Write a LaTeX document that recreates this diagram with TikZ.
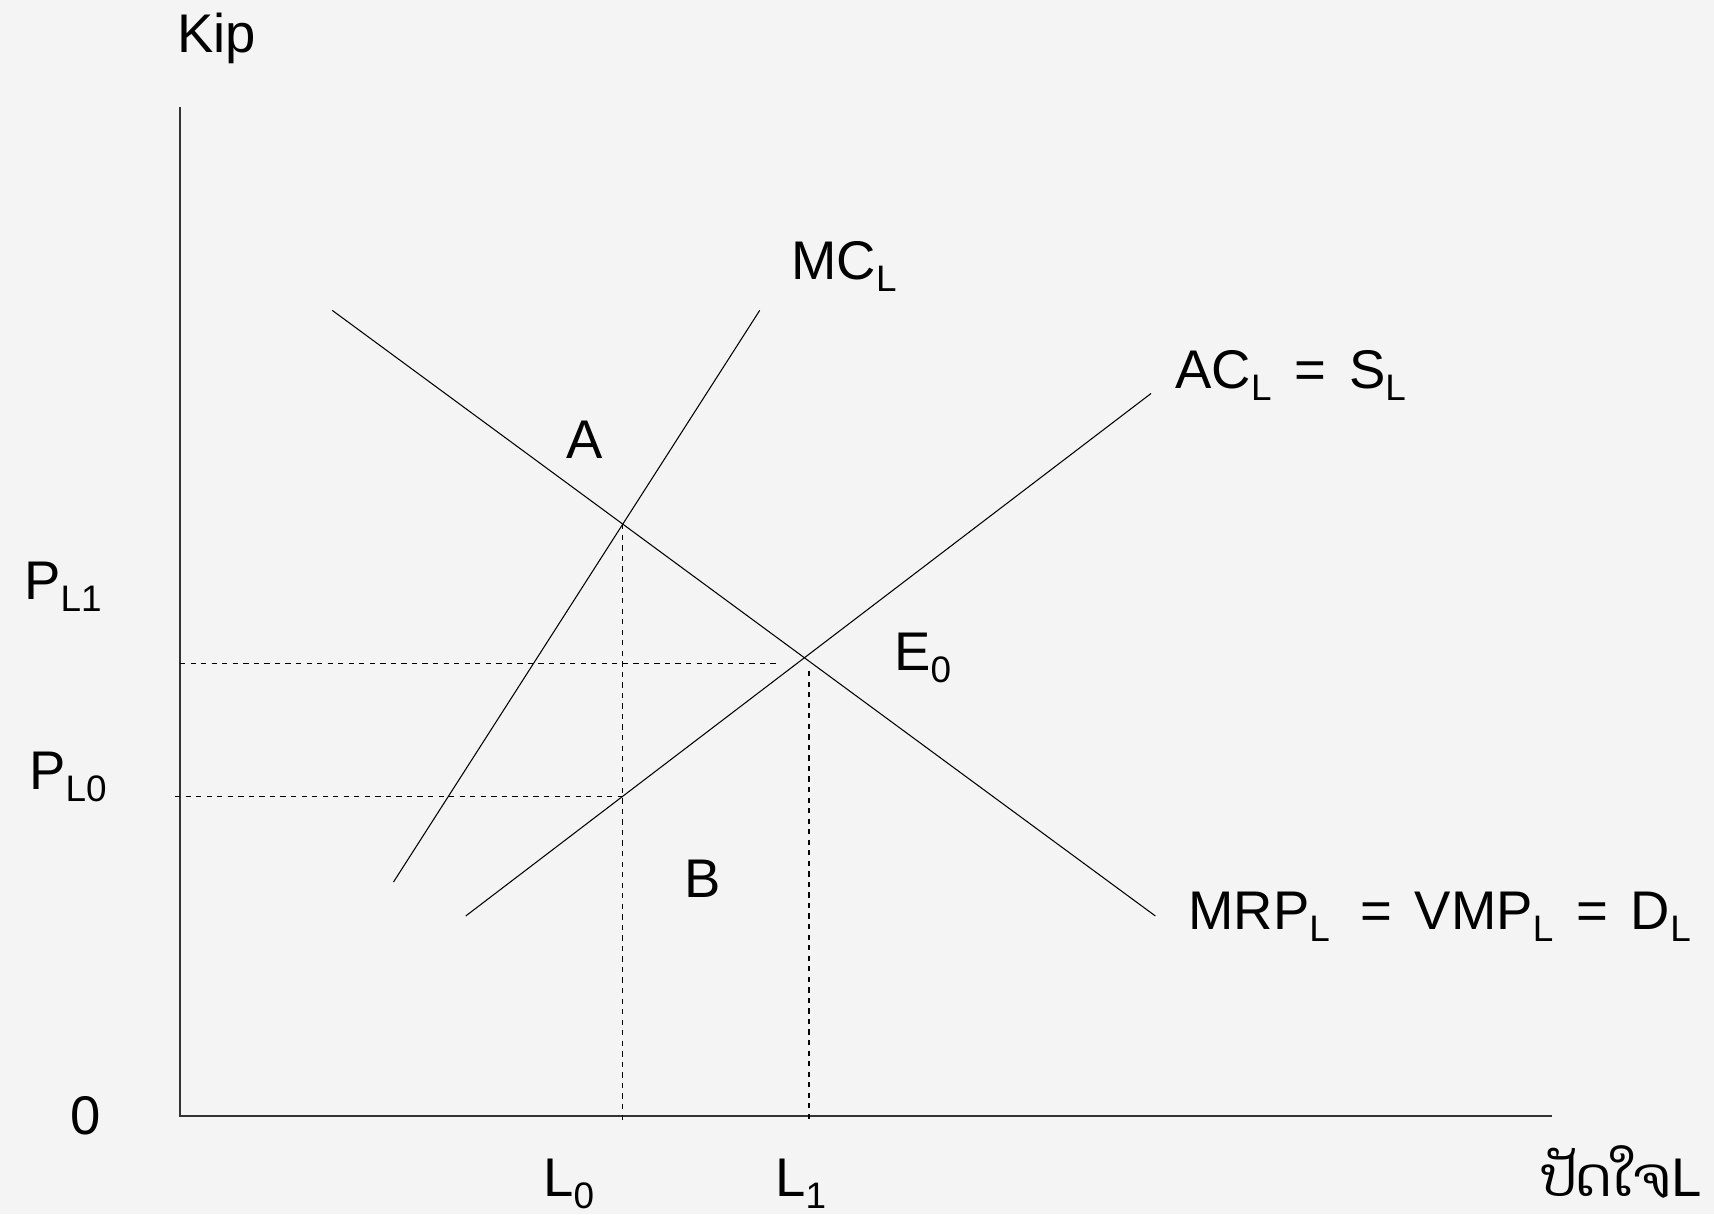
\documentclass[tikz,border=0pt]{standalone}
\usepackage{fontspec}
\setmainfont{Liberation Sans}
\newfontfamily\laofont[Script=Lao]{Dhyana}
\usepackage{tikz}
\usetikzlibrary{positioning, calc}
\definecolor{pagebg}{HTML}{F4F4F4}
\definecolor{axisgray}{HTML}{333333}
\newcommand\lsub[1]{\raisebox{-7pt}{\fontsize{21}{21}\selectfont #1}}
\newcommand\gap{\hspace{0.42em}}
\tikzset{
  axisline/.style={draw=axisgray, line width=0.8pt},
  curve/.style={draw=black, line width=0.6pt},
  guide/.style={draw=black, line width=0.6pt, dash pattern=on 3pt off 3pt},
  lbl/.style={font=\fontsize{31}{37}\selectfont, inner sep=0pt, anchor=base west},
}
\begin{document}
\begin{tikzpicture}[x=0.02cm, y=-0.02cm]
  \useasboundingbox[fill=pagebg] (0,0) rectangle (1714,1214);
  % axes
  \coordinate (origin) at (180,1116);
  \coordinate (ytop) at (180,107);
  \coordinate (xend) at (1552,1116);
  \coordinate (bot) at (0,1123);
  \coordinate (left0) at (175,0);
  \draw[axisline] (ytop) -- (origin) -- (xend);
  % curves
  \coordinate (mc1) at (393.5,882);
  \coordinate (mc2) at (759.7,310.4);
  \coordinate (ac1) at (465.7,916);
  \coordinate (ac2) at (1151,393.5);
  \coordinate (d1) at (332.3,310.4);
  \coordinate (d2) at (1155.4,916);
  \draw[curve] (mc1) -- (mc2);
  \draw[curve] (ac1) -- (ac2);
  \draw[curve] (d1) -- (d2);
  % intersections and guide lines
  \coordinate (ea) at (intersection of d1--d2 and mc1--mc2);
  \coordinate (e0h) at (777,663.5);
  \coordinate (e0v) at (809,671);
  \coordinate (eabot) at (ea |- bot);
  \coordinate (eb) at (intersection of ac1--ac2 and ea--eabot);
  \draw[guide] (ea) -- (eabot);
  \draw[guide] (e0v) -- (e0v |- bot);
  \draw[guide] (origin |- e0h) -- (e0h);
  \draw[guide] (left0 |- eb) -- (eb);
  % labels
  \node[lbl] (kip) at (177,52) {Kip};
  \node[lbl] (mcl) at (791,279) {MC\lsub{L}};
  \node[lbl] (acl) at (1175,388) {AC\lsub{L}\gap=\gap S\lsub{L}};
  \node[lbl] (la) at (566,458) {A};
  \node[lbl] (pl1) at (24,599) {P\lsub{L1}};
  \node[lbl] (e0lbl) at (894,670) {E\lsub{0}};
  \node[lbl] (pl0) at (29,789) {P\lsub{L0}};
  \node[lbl] (lb) at (684,897) {B};
  \node[lbl] (mrp) at (1188,929) {MRP\lsub{L}\ \ =\gap VMP\lsub{L}\gap=\gap D\lsub{L}};
  \node[lbl] (zero) at (70,1134) {0};
  \node[lbl] (l0) at (543,1196) {L\lsub{0}};
  \node[lbl] (l1) at (775,1196) {L\lsub{1}};
  \node[lbl] (xlbl) at (1541,1196) {{\laofont ປັດໃຈ}L};
\end{tikzpicture}
\end{document}
